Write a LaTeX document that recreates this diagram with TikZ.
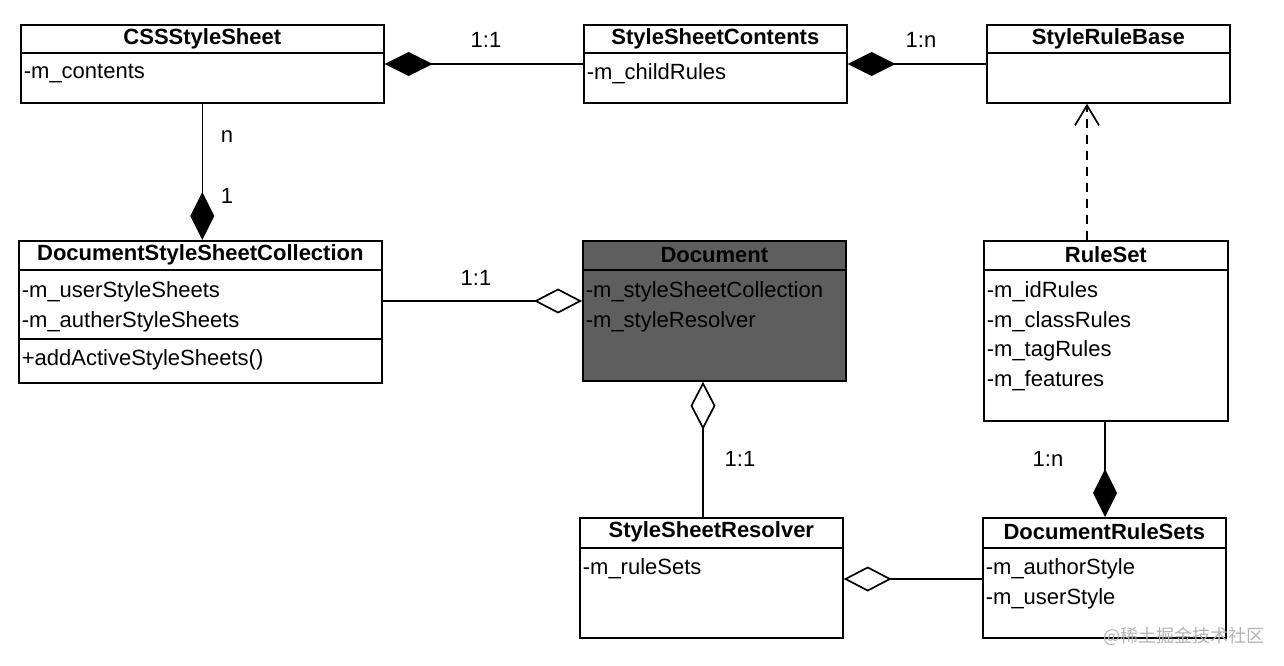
\documentclass[tikz,border=0pt]{standalone}
\usepackage{fontspec}
\setmainfont{Liberation Sans}
\newfontfamily\cjkfont{Noto Sans CJK SC}
\usetikzlibrary{arrows.meta}
\definecolor{docfill}{HTML}{5E5E5E}
\definecolor{markgray}{HTML}{B4B4B4}

\begin{document}
\begin{tikzpicture}[x = 1pt, y = -1pt, line width = 1.7pt,
	box/.style = {draw, anchor = north west, inner sep = 0pt},
	title/.style = {inner sep = 0pt, font = \fontsize{22}{25}\selectfont\bfseries},
	attr/.style = {anchor = west, inner sep = 0pt, font = \fontsize{22}{25}\selectfont},
	mult/.style = {inner sep = 0pt, font = \fontsize{22}{25}\selectfont},
	comp/.style = {{Diamond[length = 48pt, width = 24pt]}-},
	aggr/.style = {{Diamond[length = 48pt, width = 25pt, fill = white]}-},
	dep/.style = {-{Straight Barb[length = 20pt, width = 24pt]}, dash pattern = on 9pt off 7pt}]

	\useasboundingbox[fill = white] (0, 0) rectangle (1284, 666);

	% top row
	\node[box, minimum width = 363pt, minimum height = 78pt] (css) at (20, 24) {};
	\node[title] (css-t) at ([yshift = -15pt]css.north) {CSSStyleSheet};
	\draw ([yshift = -29pt]css.north west) -- ([yshift = -29pt]css.north east);
	\node[attr] (css-a1) at ([xshift = 3pt, yshift = -50pt]css.north west) {-m\_contents};

	\node[box, minimum width = 263pt, minimum height = 78pt] (contents) at (583, 24) {};
	\node[title] (contents-t) at ([yshift = -15pt]contents.north) {StyleSheetContents};
	\draw ([yshift = -29pt]contents.north west) -- ([yshift = -29pt]contents.north east);
	\node[attr] (contents-a1) at ([xshift = 3pt, yshift = -50pt]contents.north west) {-m\_childRules};

	\node[box, minimum width = 243pt, minimum height = 78pt] (rulebase) at (986, 24) {};
	\node[title] (rulebase-t) at ([yshift = -15pt]rulebase.north) {StyleRuleBase};
	\draw ([yshift = -29pt]rulebase.north west) -- ([yshift = -29pt]rulebase.north east);

	% middle row
	\node[box, minimum width = 363pt, minimum height = 142pt] (dssc) at (18, 240) {};
	\node[title] (dssc-t) at ([yshift = -15pt]dssc.north) {DocumentStyleSheetCollection};
	\draw ([yshift = -30pt]dssc.north west) -- ([yshift = -30pt]dssc.north east);
	\draw ([yshift = -99pt]dssc.north west) -- ([yshift = -99pt]dssc.north east);
	\node[attr] (dssc-a1) at ([xshift = 3pt, yshift = -52pt]dssc.north west) {-m\_userStyleSheets};
	\node[attr] (dssc-a2) at ([xshift = 3pt, yshift = -82pt]dssc.north west) {-m\_autherStyleSheets};
	\node[attr] (dssc-m1) at ([xshift = 3pt, yshift = -120pt]dssc.north west) {+addActiveStyleSheets()};

	\node[box, fill = docfill, minimum width = 263pt, minimum height = 140pt] (doc) at (582, 240) {};
	\node[title] (doc-t) at ([yshift = -15pt]doc.north) {Document};
	\draw ([yshift = -30pt]doc.north west) -- ([yshift = -30pt]doc.north east);
	\node[attr] (doc-a1) at ([xshift = 3pt, yshift = -52pt]doc.north west) {-m\_styleSheetCollection};
	\node[attr] (doc-a2) at ([xshift = 3pt, yshift = -82pt]doc.north west) {-m\_styleResolver};

	\node[box, minimum width = 244pt, minimum height = 180pt] (ruleset) at (983, 240) {};
	\node[title] (ruleset-t) at ([yshift = -15pt]ruleset.north) {RuleSet};
	\draw ([yshift = -30pt]ruleset.north west) -- ([yshift = -30pt]ruleset.north east);
	\node[attr] (ruleset-a1) at ([xshift = 3pt, yshift = -52pt]ruleset.north west) {-m\_idRules};
	\node[attr] (ruleset-a2) at ([xshift = 3pt, yshift = -82pt]ruleset.north west) {-m\_classRules};
	\node[attr] (ruleset-a3) at ([xshift = 3pt, yshift = -111pt]ruleset.north west) {-m\_tagRules};
	\node[attr] (ruleset-a4) at ([xshift = 3pt, yshift = -141pt]ruleset.north west) {-m\_features};

	% bottom row
	\node[box, minimum width = 263pt, minimum height = 120pt] (resolver) at (579, 517) {};
	\node[title] (resolver-t) at ([yshift = -15pt]resolver.north) {StyleSheetResolver};
	\draw ([yshift = -31pt]resolver.north west) -- ([yshift = -31pt]resolver.north east);
	\node[attr] (resolver-a1) at ([xshift = 3pt, yshift = -52pt]resolver.north west) {-m\_ruleSets};

	\node[box, minimum width = 243pt, minimum height = 120pt] (rulesets) at (982, 517) {};
	\node[title] (rulesets-t) at ([yshift = -15pt]rulesets.north) {DocumentRuleSets};
	\draw ([yshift = -31pt]rulesets.north west) -- ([yshift = -31pt]rulesets.north east);
	\node[attr] (rulesets-a1) at ([xshift = 3pt, yshift = -52pt]rulesets.north west) {-m\_authorStyle};
	\node[attr] (rulesets-a2) at ([xshift = 3pt, yshift = -82pt]rulesets.north west) {-m\_userStyle};

	% connectors
	\draw[comp] ([yshift = -40pt]css.north east) -- ([yshift = -40pt]contents.north west);
	\node[mult] (m-css) at (486, 40) {1:1};

	\draw[comp] ([yshift = -40pt]contents.north east) -- ([yshift = -40pt]rulebase.north west);
	\node[mult] (m-contents) at (921, 40) {1:n};

	\draw[comp] (css.south |- dssc.north) -- (css.south);
	\node[mult] (m-n) at (227, 137) {n};
	\node[mult] (m-1) at (227, 196) {1};

	\draw[aggr] ([yshift = -61pt]doc.north west) -- ([yshift = -61pt]dssc.north east);
	\node[mult] (m-dssc) at (476, 278) {1:1};

	\coordinate (docbot) at ([xshift = 121pt]doc.south west);
	\draw[aggr] (docbot) -- (docbot |- resolver.north);
	\node[mult] (m-doc) at (740, 459) {1:1};

	\coordinate (rsettop) at ([xshift = 104pt]ruleset.north west);
	\draw[dep] (rsettop) -- (rsettop |- rulebase.south);

	\coordinate (rsetbot) at ([xshift = 122pt]ruleset.south west);
	\draw[comp] (rsetbot |- rulesets.north) -- (rsetbot);
	\node[mult] (m-ruleset) at (1048, 459) {1:n};

	\draw[aggr] ([yshift = -62pt]resolver.north east) -- ([yshift = -62pt]rulesets.north west);

	\node[anchor = east, inner sep = 0pt, text = markgray, font = \cjkfont\fontsize{18}{21}\selectfont] (mark) at (1265, 636) {@稀土掘金技术社区};

\end{tikzpicture}
\end{document}
